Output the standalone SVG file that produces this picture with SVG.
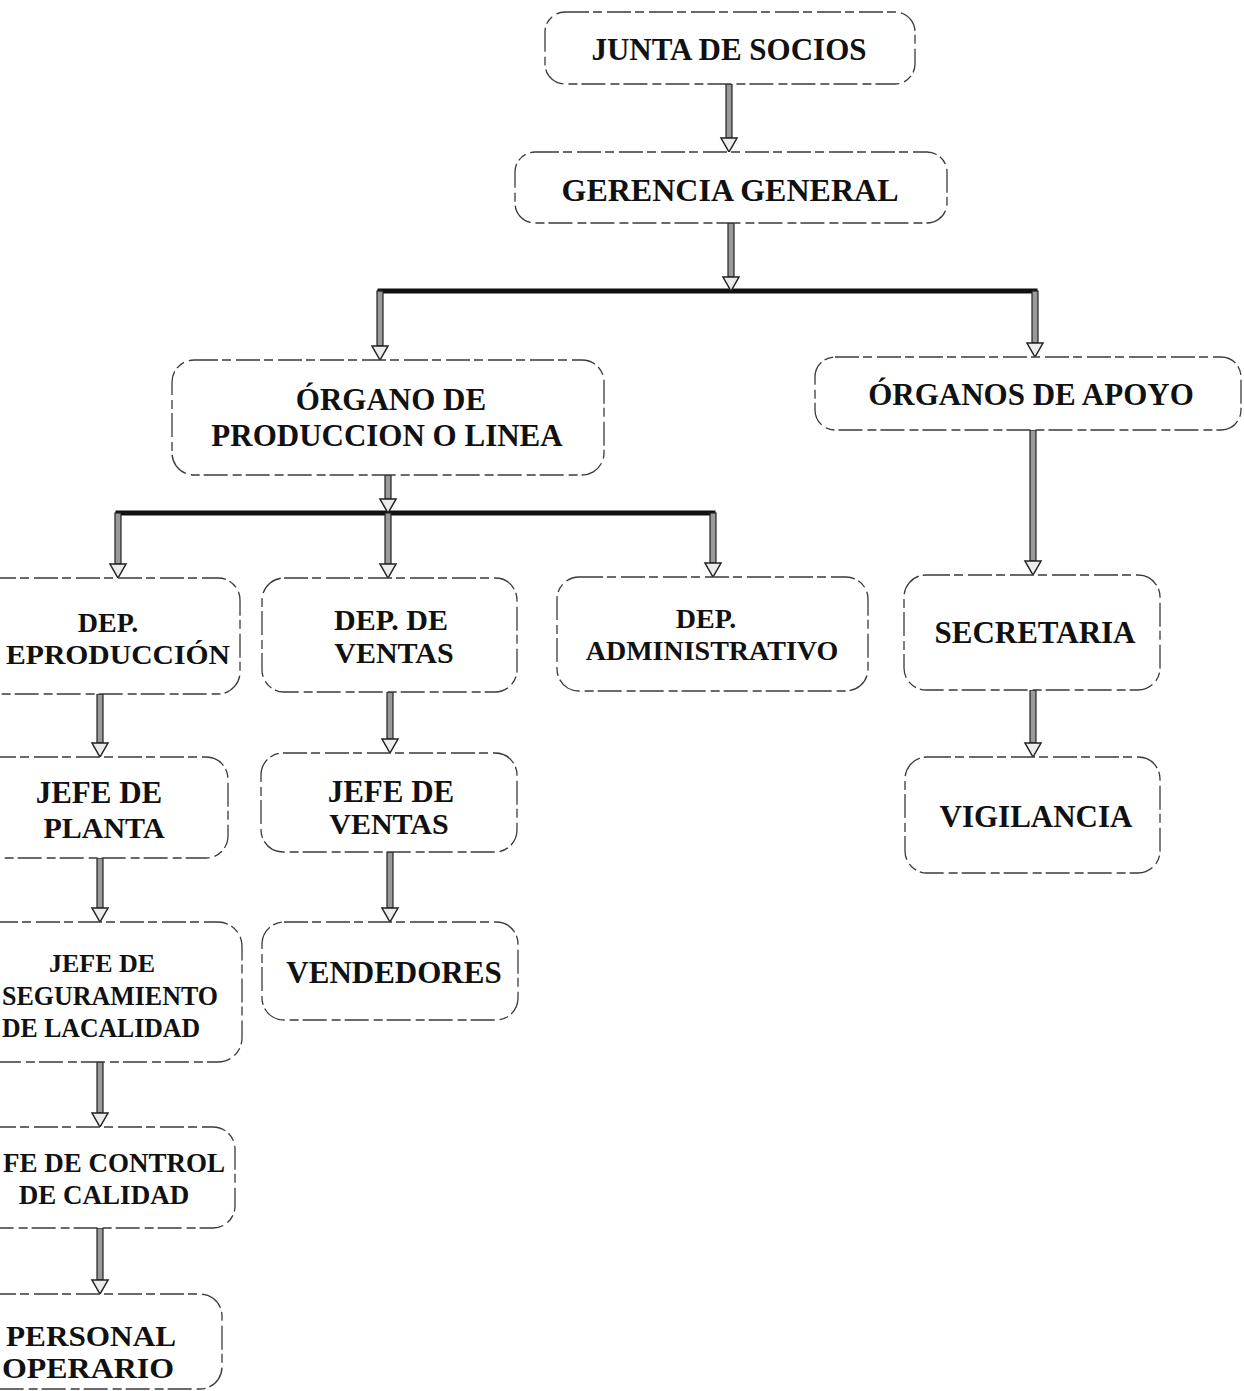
<svg xmlns="http://www.w3.org/2000/svg" width="1244" height="1391" viewBox="0 0 1244 1391">
  <style>
    .box { fill: #ffffff; stroke: #3a3a3a; stroke-width: 1.3; stroke-dasharray: 24 4 9 5; }
    .lbl { font-family: "Liberation Serif", "Times New Roman", serif; font-weight: bold; fill: #111; text-anchor: middle; }
    .start { text-anchor: start; }
    .f32 { font-size: 32px; }
    .f31 { font-size: 31px; }
    .f30 { font-size: 30px; }
    .f28 { font-size: 28px; }
    .f27 { font-size: 27px; }
    .f26 { font-size: 26px; }
    .bar { stroke: #111; stroke-width: 5; fill: none; stroke-linecap: square; }
    .shaft { fill: #9a9a9a; stroke: #222; stroke-width: 1.2; }
    .head { fill: #ececec; stroke: #222; stroke-width: 1.5; stroke-linejoin: miter; }
  </style>

  <!-- connectors: thick distribution bars and hollow block arrows -->
  <g id="connectors">
    <path class="bar" d="M380 291 H1035"/>
    <path class="bar" d="M118 513 H713"/>

    <!-- Junta -> Gerencia -->
    <rect class="shaft" x="726" y="84" width="6" height="54"/>
    <polygon class="head" points="721,138 737,138 729,152"/>
    <!-- Gerencia -> bar -->
    <rect class="shaft" x="728" y="223" width="6" height="54"/>
    <polygon class="head" points="723,277 739,277 731,291"/>
    <!-- bar -> Organo de produccion -->
    <rect class="shaft" x="377" y="291" width="6" height="55"/>
    <polygon class="head" points="372,346 388,346 380,360"/>
    <!-- bar -> Organos de apoyo -->
    <rect class="shaft" x="1032" y="291" width="6" height="52"/>
    <polygon class="head" points="1027,343 1043,343 1035,357"/>
    <!-- Organo de produccion -> bar 2 -->
    <rect class="shaft" x="385" y="475" width="6" height="24"/>
    <polygon class="head" points="380,499 396,499 388,513"/>
    <!-- bar 2 -> departments -->
    <rect class="shaft" x="115" y="513" width="6" height="51"/>
    <polygon class="head" points="110,564 126,564 118,578"/>
    <rect class="shaft" x="385" y="513" width="6" height="51"/>
    <polygon class="head" points="380,564 396,564 388,578"/>
    <rect class="shaft" x="710" y="513" width="6" height="50"/>
    <polygon class="head" points="705,563 721,563 713,577"/>
    <!-- Organos de apoyo -> Secretaria -> Vigilancia -->
    <rect class="shaft" x="1030" y="430" width="6" height="131"/>
    <polygon class="head" points="1025,561 1041,561 1033,575"/>
    <rect class="shaft" x="1030" y="690" width="6" height="53"/>
    <polygon class="head" points="1025,743 1041,743 1033,757"/>
    <!-- production chain -->
    <rect class="shaft" x="97" y="694" width="6" height="49"/>
    <polygon class="head" points="92,743 108,743 100,757"/>
    <rect class="shaft" x="97" y="858" width="6" height="50"/>
    <polygon class="head" points="92,908 108,908 100,922"/>
    <rect class="shaft" x="97" y="1062" width="6" height="51"/>
    <polygon class="head" points="92,1113 108,1113 100,1127"/>
    <rect class="shaft" x="97" y="1228" width="6" height="52"/>
    <polygon class="head" points="92,1280 108,1280 100,1294"/>
    <!-- sales chain -->
    <rect class="shaft" x="387" y="692" width="6" height="47"/>
    <polygon class="head" points="382,739 398,739 390,753"/>
    <rect class="shaft" x="387" y="852" width="6" height="56"/>
    <polygon class="head" points="382,908 398,908 390,922"/>
  </g>

  <g id="junta">
    <rect class="box" x="545" y="12" width="370" height="72" rx="20"/>
    <text class="lbl f31" x="729" y="60">JUNTA DE SOCIOS</text>
  </g>

  <g id="gerencia">
    <rect class="box" x="515" y="152" width="432" height="71" rx="20"/>
    <text class="lbl f32" x="730" y="201">GERENCIA GENERAL</text>
  </g>

  <g id="organo-produccion">
    <rect class="box" x="172" y="360" width="432" height="115" rx="22"/>
    <text class="lbl f31" x="391" y="410">ÓRGANO DE</text>
    <text class="lbl f31" x="387" y="446">PRODUCCION O LINEA</text>
  </g>

  <g id="organos-apoyo">
    <rect class="box" x="815" y="357" width="426" height="73" rx="20"/>
    <text class="lbl f31" x="1031" y="405">ÓRGANOS DE APOYO</text>
  </g>

  <g id="dep-produccion">
    <rect class="box" x="-30" y="578" width="270" height="116" rx="22"/>
    <text class="lbl f28" x="108" y="632">DEP.</text>
    <text class="lbl f28 start" x="6" y="664" textLength="224" lengthAdjust="spacingAndGlyphs">EPRODUCCIÓN</text>
  </g>

  <g id="dep-ventas">
    <rect class="box" x="262" y="578" width="255" height="114" rx="22"/>
    <text class="lbl f30" x="391" y="630">DEP. DE</text>
    <text class="lbl f30" x="394" y="663">VENTAS</text>
  </g>

  <g id="dep-administrativo">
    <rect class="box" x="557" y="577" width="311" height="114" rx="22"/>
    <text class="lbl f28" x="706" y="628">DEP.</text>
    <text class="lbl f28" x="712" y="660">ADMINISTRATIVO</text>
  </g>

  <g id="secretaria">
    <rect class="box" x="904" y="575" width="256" height="115" rx="22"/>
    <text class="lbl f31" x="1035" y="643">SECRETARIA</text>
  </g>

  <g id="vigilancia">
    <rect class="box" x="905" y="757" width="255" height="116" rx="22"/>
    <text class="lbl f31" x="1036" y="827">VIGILANCIA</text>
  </g>

  <g id="jefe-planta">
    <rect class="box" x="-30" y="757" width="258" height="101" rx="22"/>
    <text class="lbl f31" x="99" y="803">JEFE DE</text>
    <text class="lbl f30" x="104" y="838">PLANTA</text>
  </g>

  <g id="jefe-ventas">
    <rect class="box" x="261" y="753" width="256" height="99" rx="22"/>
    <text class="lbl f31" x="391" y="802">JEFE DE</text>
    <text class="lbl f30" x="389" y="834">VENTAS</text>
  </g>

  <g id="jefe-aseguramiento">
    <rect class="box" x="-30" y="922" width="272" height="140" rx="24"/>
    <text class="lbl f26" x="102" y="972">JEFE DE</text>
    <text class="lbl f27 start" x="2" y="1005" textLength="216" lengthAdjust="spacingAndGlyphs">SEGURAMIENTO</text>
    <text class="lbl f27 start" x="2" y="1037" textLength="198" lengthAdjust="spacingAndGlyphs">DE LACALIDAD</text>
  </g>

  <g id="vendedores">
    <rect class="box" x="262" y="922" width="256" height="98" rx="22"/>
    <text class="lbl f31" x="394" y="983">VENDEDORES</text>
  </g>

  <g id="jefe-control">
    <rect class="box" x="-30" y="1127" width="265" height="101" rx="22"/>
    <text class="lbl f27 start" x="3" y="1172" textLength="222" lengthAdjust="spacingAndGlyphs">FE DE CONTROL</text>
    <text class="lbl f27" x="104" y="1204">DE CALIDAD</text>
  </g>

  <g id="personal-operario">
    <rect class="box" x="-30" y="1294" width="252" height="95" rx="22"/>
    <text class="lbl f30 start" x="6" y="1346" textLength="170" lengthAdjust="spacingAndGlyphs">PERSONAL</text>
    <text class="lbl f30 start" x="2" y="1378" textLength="172" lengthAdjust="spacingAndGlyphs">OPERARIO</text>
  </g>
</svg>
